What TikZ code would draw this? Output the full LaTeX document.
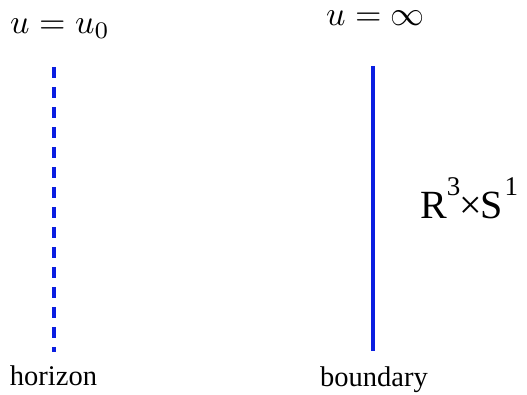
\documentclass[tikz,border=0pt]{standalone}
\usepackage{graphicx}
\usepackage{fontspec}
\setmainfont{Liberation Serif}
\definecolor{lineblue}{RGB}{10,30,225}
\newcommand{\supnum}[1]{\raisebox{23pt}{\fontsize{27}{27}\selectfont #1}}
\newcommand{\bigmath}[1]{\scalebox{3.4}{\fontsize{10}{12}\selectfont #1}}
\begin{document}
\begin{tikzpicture}[x=1pt,y=-1pt,
  wall/.style={draw=lineblue,line width=3.2pt},
  lbl/.style={font=\fontsize{28.5}{30}\selectfont,inner sep=0pt,anchor=base},
  mlbl/.style={inner sep=0pt,anchor=base}]
\useasboundingbox (0,0) rectangle (527,394);
\coordinate (htop) at (54,67);
\coordinate (hbot) at (54,352);
\coordinate (btop) at (373,66);
\coordinate (bbot) at (373,351);
\draw[wall,dash pattern=on 10.5pt off 9.5pt] (htop) -- (hbot);
\draw[wall] (btop) -- (bbot);
\node[mlbl] (u0) at (60,33) {\bigmath{$u = u_0$}};
\node[mlbl] (uinf) at (375.5,25) {\bigmath{$u = \infty$}};
\node[lbl] (hor) at (53.5,385) {horizon};
\node[lbl] (bnd) at (374,386) {boundary};
\node[font=\fontsize{40}{40}\selectfont,inner sep=0pt,anchor=base west] (rs) at (420,218)
  {R\rlap{\supnum{3}}\kern13pt×\kern-2pt S\kern2pt\supnum{1}};
\end{tikzpicture}
\end{document}
